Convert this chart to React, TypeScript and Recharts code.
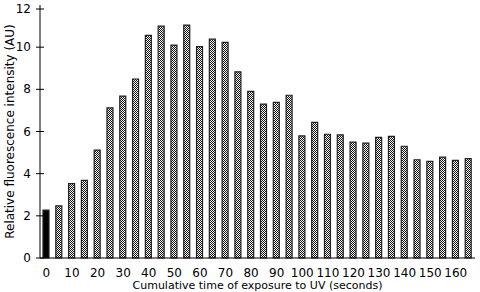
import { BarChart, Bar, XAxis, YAxis, Cell } from 'recharts';

const times = [
  0, 5, 10, 15, 20, 25, 30, 35, 40, 45, 50, 55, 60, 65, 70, 75, 80,
  85, 90, 95, 100, 105, 110, 115, 120, 125, 130, 135, 140, 145, 150, 155, 160, 165,
];
const intensity = [
  2.27, 2.47, 3.53, 3.68, 5.12, 7.12, 7.68, 8.49, 10.56, 11.0, 10.1, 11.05, 10.03, 10.38, 10.23, 8.83, 7.9,
  7.3, 7.38, 7.72, 5.79, 6.43, 5.87, 5.84, 5.5, 5.45, 5.72, 5.77, 5.3, 4.66, 4.58, 4.78, 4.63, 4.71,
];
const yTicks = [0, 2, 4, 6, 8, 10, 12];

const data = times.map((t, i) => ({ time: t, value: intensity[i] }));

const font = 'Tahoma, "DejaVu Sans", sans-serif';

// y ticks cross the axis line in the original
function YTick(props: any) {
  const { y, payload } = props;
  return (
    <g>
      <line x1={36} x2={44} y1={y} y2={y} stroke="#000" />
      <text x={31} y={y} dy={4} textAnchor="end" fontSize={12} fill="#000" fontFamily={font}>
        {payload.value}
      </text>
    </g>
  );
}

export default function App() {
  return (
    <div style={{ position: 'absolute', left: 0, top: 0, width: 480, height: 292, background: '#fff' }}>
      <BarChart
        width={480}
        height={292}
        data={data}
        margin={{ top: 5, right: 5, left: 0, bottom: 0 }}
        barSize={6}
      >
        <defs>
          <pattern id="dots" width="2" height="2" patternUnits="userSpaceOnUse">
            <rect width="2" height="2" fill="#fff" />
            <rect x="0" y="0" width="1" height="1" fill="#111" />
            <rect x="1" y="1" width="1" height="1" fill="#111" />
          </pattern>
        </defs>
        <XAxis
          dataKey="time"
          interval={1}
          height={34}
          tickLine={false}
          axisLine={{ stroke: '#000' }}
          tick={{ fill: '#000', fontSize: 12, fontFamily: font }}
          tickMargin={4}
          label={{
            value: 'Cumulative time of exposure to UV (seconds)',
            position: 'insideBottom',
            offset: 3,
            fill: '#000',
            fontSize: 11,
            fontFamily: font,
          }}
        />
        <YAxis
          domain={[0, 12]}
          ticks={yTicks}
          width={40}
          tickLine={false}
          axisLine={{ stroke: '#000' }}
          tick={<YTick />}
          label={{
            value: 'Relative fluorescence intensity (AU)',
            angle: -90,
            position: 'insideLeft',
            offset: 10,
            style: { textAnchor: 'middle' },
            fill: '#000',
            fontSize: 12,
            fontFamily: font,
          }}
        />
        <Bar dataKey="value" isAnimationActive={false} stroke="#222" strokeWidth={1.2}>
          {data.map((d, i) => (
            <Cell key={d.time} fill={i === 0 ? '#000' : 'url(#dots)'} />
          ))}
        </Bar>
      </BarChart>
    </div>
  );
}
